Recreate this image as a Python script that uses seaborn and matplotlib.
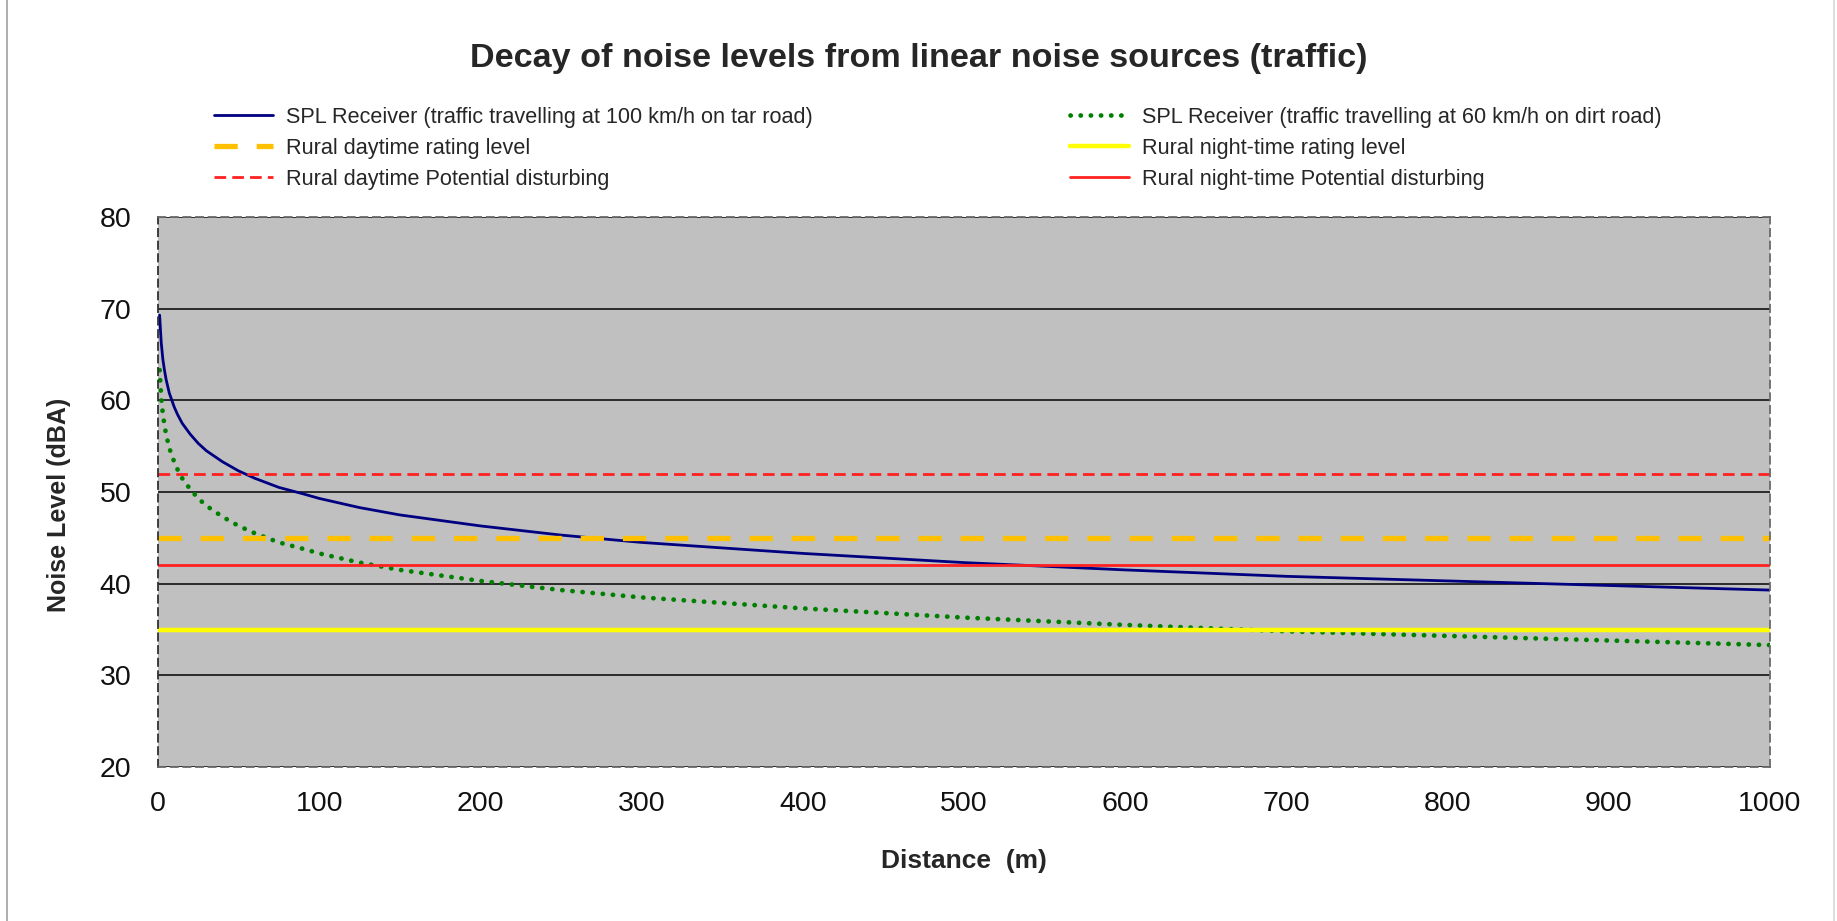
import pandas as pd
import matplotlib.pyplot as plt
import seaborn as sns

# distance from the road (m) and receiver levels (dBA)
distance = [1, 2, 3, 4, 5, 7, 10, 12, 15, 20, 25, 30, 40, 50, 60, 75, 90, 100, 125, 150,
            175, 200, 250, 300, 350, 400, 450, 500, 600, 700, 800, 900, 1000]
spl_tar_100 = [69.3, 66.3, 64.5, 63.3, 62.3, 60.8, 59.3, 58.5, 57.5, 56.3, 55.3, 54.5, 53.3,
               52.3, 51.5, 50.5, 49.8, 49.3, 48.3, 47.5, 46.9, 46.3, 45.3, 44.5, 43.9, 43.3,
               42.8, 42.3, 41.5, 40.8, 40.3, 39.8, 39.3]
spl_dirt_60 = [63.3, 60.3, 58.5, 57.3, 56.3, 54.8, 53.3, 52.5, 51.5, 50.3, 49.3, 48.5, 47.3,
               46.3, 45.5, 44.5, 43.8, 43.3, 42.3, 41.5, 40.9, 40.3, 39.3, 38.5, 37.9, 37.3,
               36.8, 36.3, 35.5, 34.8, 34.3, 33.8, 33.3]

# rating levels (dBA)
day_rating = 45
night_rating = 35
day_disturbing = 52
night_disturbing = 42

x_ticks = [0, 100, 200, 300, 400, 500, 600, 700, 800, 900, 1000]
y_ticks = [20, 30, 40, 50, 60, 70, 80]

sns.set_style("white")
plt.rcParams['font.family'] = ['Liberation Sans', 'DejaVu Sans']

df = pd.DataFrame({'Distance': distance, 'tar': spl_tar_100, 'dirt': spl_dirt_60})

fig = plt.figure(figsize=(18.37, 9.21), dpi=100)
ax = fig.add_axes([158 / 1837, 1 - 767 / 921, 1612 / 1837, 550 / 921])
ax.set_facecolor('#c0c0c0')

sns.lineplot(data=df, x='Distance', y='tar', ax=ax, color='#000080', lw=2.0,
             label='SPL Receiver (traffic travelling at 100 km/h on tar road)')
sns.lineplot(data=df, x='Distance', y='dirt', ax=ax, color='#008000', lw=3.4,
             linestyle=(0, (0.05, 2.1)), dash_capstyle='round',
             label='SPL Receiver (traffic travelling at 60 km/h on dirt road)')
ax.axhline(day_rating, color='#ffc000', lw=3.8, linestyle=(0, (4.4, 3.6)),
           label='Rural daytime rating level')
ax.axhline(night_rating, color='#ffff00', lw=3.2, label='Rural night-time rating level')
ax.axhline(day_disturbing, color='#ff2020', lw=2.0, linestyle=(0, (4.2, 2.2)),
           label='Rural daytime Potential disturbing')
ax.axhline(night_disturbing, color='#ff2020', lw=2.0,
           label='Rural night-time Potential disturbing')

ax.set_xlim(0, 1000)
ax.set_ylim(20, 80)
ax.set_xticks(x_ticks)
ax.set_yticks(y_ticks)
ax.grid(axis='y', color='#202020', lw=1.3)
ax.grid(axis='x', visible=False)
ax.set_axisbelow(True)

for side in ['top', 'right', 'bottom', 'left']:
    ax.spines[side].set_visible(True)
    ax.spines[side].set_linestyle((0, (4, 3)))
    ax.spines[side].set_color('#6a6a6a')
    ax.spines[side].set_linewidth(1.3)
ax.spines['left'].set_color('#303030')

ax.tick_params(axis='both', direction='out', length=5.8, width=1.2, color='#303030',
               labelsize=20.5, labelcolor='#111111')
ax.tick_params(axis='y', pad=13.5)
ax.tick_params(axis='x', pad=11.5)

ax.set_xlabel('Distance  (m)', fontsize=19, fontweight='bold')
ax.set_ylabel('Noise Level (dBA)', fontsize=18, fontweight='bold')
ax.xaxis.set_label_coords(0.5, (767 - 849) / 550)
ax.yaxis.set_label_coords((71 - 158) / 1612, (767 - 505) / 550)

fig.suptitle('Decay of noise levels from linear noise sources (traffic)',
             fontsize=24.6, fontweight='bold', x=0.5, y=1 - 58 / 921, va='center')

# legend: two columns, left column first
handles, labels = ax.get_legend_handles_labels()
order = [0, 2, 4, 1, 3, 5]
ax.get_legend().remove()
fig.legend([handles[i] for i in order], [labels[i] for i in order],
           ncol=2, frameon=False, fontsize=15.6, loc='upper left',
           bbox_to_anchor=(214 / 1837, 1 - 107 / 921), borderpad=0, borderaxespad=0,
           handlelength=2.7, handletextpad=0.6, columnspacing=11.9, labelspacing=0.45)

# thin frame of the chart area
fig.add_artist(plt.Line2D([7 / 1837, 7 / 1837], [0, 1], color='#a0a0a0', lw=1.2))
fig.add_artist(plt.Line2D([1834 / 1837, 1834 / 1837], [0, 1], color='#d8d8d8', lw=1.2))

plt.savefig('out.png', dpi=100)
